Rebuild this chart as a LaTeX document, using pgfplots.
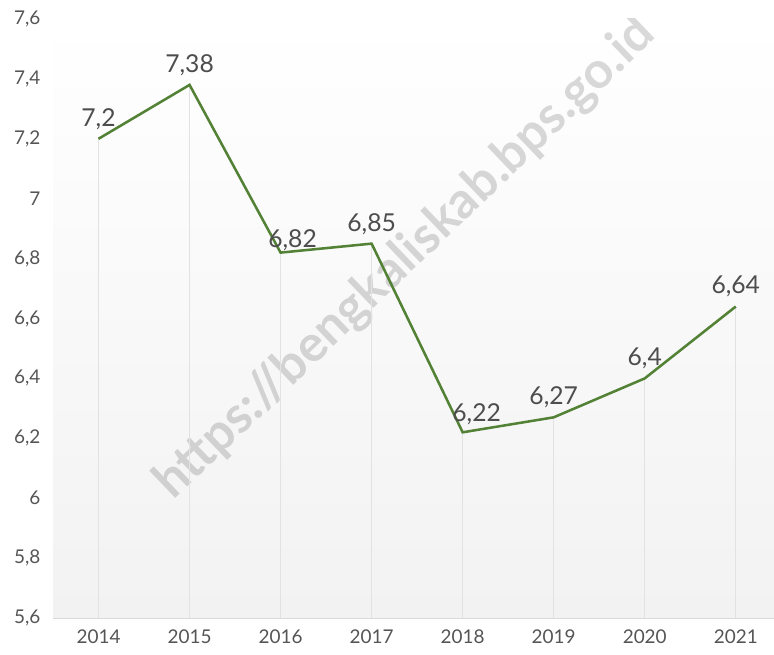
\documentclass[border=0pt]{standalone}
\usepackage{pgfplots}
\pgfplotsset{compat=1.18}
\usepackage{fontspec}
\setmainfont{Lato}
\definecolor{linegreen}{HTML}{538135}
\definecolor{tickgray}{HTML}{555555}
\definecolor{labgray}{HTML}{4D4D4D}
\definecolor{gridgray}{HTML}{E2E2E2}
\definecolor{axisgray}{HTML}{D9D9D9}
\definecolor{bgbottom}{HTML}{F2F2F2}
\begin{document}
\begin{tikzpicture}
\useasboundingbox (0,0) rectangle (580.5pt,490.5pt);
\begin{axis}[
  at={(39.75pt,27pt)}, anchor=south west,
  scale only axis, width=540.75pt, height=449.25pt,
  xmin=-0.5, xmax=7.42, ymin=5.6, ymax=7.6,
  xtick={0,1,2,3,4,5,6,7},
  xticklabels={2014,2015,2016,2017,2018,2019,2020,2021},
  ytick={5.6,5.8,6.0,6.2,6.4,6.6,6.8,7.0,7.2,7.4,7.6},
  axis line style={draw=none},
  major tick length=0pt,
  tick label style={font=\fontsize{14.2}{16}\selectfont, text=tickgray},
  yticklabel style={anchor=east, xshift=-6pt},
  xticklabel style={anchor=north, yshift=-5pt},
  /pgf/number format/.cd, use comma, 1000 sep={}, assume math mode=true,
  /pgfplots/.cd,
  axis background/.style={shade, top color=white, bottom color=bgbottom},
  nodes near coords style={font=\fontsize{18.5}{20}\selectfont, text=labgray, anchor=base},
]
\node[rotate=43.8, text=black, text opacity=0.15, font=\bfseries\fontsize{38}{42}\selectfont] at (axis cs:3.37,6.80) {https://bengkaliskab.bps.go.id};
\addplot[ycomb, draw=gridgray, line width=0.75pt] coordinates {
(0,7.2) (1,7.38) (2,6.82) (3,6.85) (4,6.22) (5,6.27) (6,6.4) (7,6.64)};
\addplot[draw=linegreen, line width=1.9pt, mark=none] coordinates {
(0,7.2) (1,7.38) (2,6.82) (3,6.85) (4,6.22) (5,6.27) (6,6.4) (7,6.64)};
\addplot[draw=none, mark=none, nodes near coords, nodes near coords style={yshift=9.4pt}] coordinates {
(0,7.2) (1,7.38) (3,6.85) (5,6.27) (6,6.4) (7,6.64)};
\addplot[draw=none, mark=none, nodes near coords, nodes near coords style={yshift=3.8pt, xshift=9pt}] coordinates {
(2,6.82)};
\addplot[draw=none, mark=none, nodes near coords, nodes near coords style={yshift=8pt, xshift=10.5pt}] coordinates {
(4,6.22)};
\draw[axisgray, line width=0.75pt] (rel axis cs:0,0) -- (rel axis cs:1,0);
\end{axis}
\end{tikzpicture}
\end{document}
